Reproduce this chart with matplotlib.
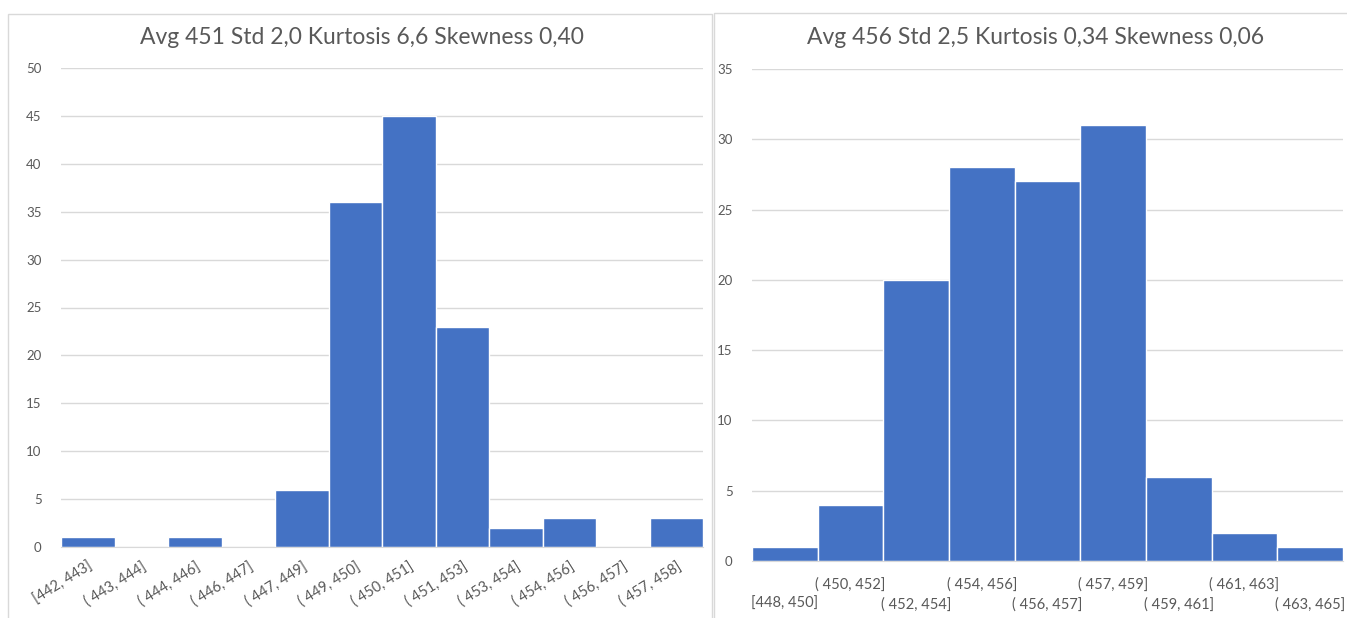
import matplotlib.pyplot as plt
from matplotlib.patches import Rectangle
import numpy as np

plt.rcParams['font.family'] = ['Lato', 'DejaVu Sans']

# Left histogram
left_bins = ['[442, 443]', '( 443, 444]', '( 444, 446]', '( 446, 447]', '( 447, 449]', '( 449, 450]',
             '( 450, 451]', '( 451, 453]', '( 453, 454]', '( 454, 456]', '( 456, 457]', '( 457, 458]']
left_counts = [1, 0, 1, 0, 6, 36, 45, 23, 2, 3, 0, 3]
left_title = 'Avg 451 Std 2,0 Kurtosis 6,6 Skewness 0,40'

# Right histogram
right_bins = ['[448, 450]', '( 450, 452]', '( 452, 454]', '( 454, 456]', '( 456, 457]',
              '( 457, 459]', '( 459, 461]', '( 461, 463]', '( 463, 465]']
right_counts = [1, 4, 20, 28, 27, 31, 6, 2, 1]
right_title = 'Avg 456 Std 2,5 Kurtosis 0,34 Skewness 0,06'

bar_color = '#4472C4'
grid_color = '#D9D9D9'
text_color = '#595959'

W, H = 1347, 618
fig = plt.figure(figsize=(W / 100, H / 100), dpi=100)

# panel borders
fig.patches.append(Rectangle((8 / W, -0.05), 704 / W, 1.05 - 14 / H, transform=fig.transFigure,
                             fill=False, edgecolor=grid_color, linewidth=1))
fig.patches.append(Rectangle((714 / W, -0.05), 700 / W, 1.05 - 13 / H, transform=fig.transFigure,
                             fill=False, edgecolor=grid_color, linewidth=1))


def style_axes(ax, ymax):
    ax.set_ylim(0, ymax)
    ax.set_yticks(np.arange(0, ymax + 1, 5))
    ax.yaxis.grid(True, color=grid_color, linewidth=1)
    ax.set_axisbelow(True)
    for s in ['top', 'right', 'left']:
        ax.spines[s].set_visible(False)
    ax.spines['bottom'].set_color(grid_color)
    ax.tick_params(axis='both', length=0, colors=text_color, labelsize=9.5)
    ax.tick_params(axis='y', pad=14)


# left chart
ax1 = fig.add_axes([61 / W, 1 - 547 / H, 642 / W, 479 / H])
x1 = np.arange(len(left_counts))
ax1.bar(x1, left_counts, width=1.0, color=bar_color, edgecolor='white', linewidth=1)
ax1.set_xlim(-0.5, len(left_counts) - 0.5)
style_axes(ax1, 50)
ax1.set_xticks(x1)
ax1.set_xticklabels(left_bins, rotation=32, ha='right', rotation_mode='anchor', fontsize=10.5)
ax1.tick_params(axis='x', pad=9)
fig.text(362 / W, 1 - 38 / H, left_title, ha='center', va='center', fontsize=16.5, color=text_color)

# right chart
ax2 = fig.add_axes([752 / W, 1 - 561 / H, 591 / W, 492 / H])
x2 = np.arange(len(right_counts))
ax2.bar(x2, right_counts, width=1.0, color=bar_color, edgecolor='white', linewidth=1)
ax2.set_xlim(-0.5, len(right_counts) - 0.5)
style_axes(ax2, 35)
ax2.set_xticks(x2)
ax2.set_xticklabels(['\n' + b if i % 2 == 0 else b for i, b in enumerate(right_bins)],
                    va='top', linespacing=1.5, fontsize=10.5)
ax2.tick_params(axis='x', pad=12)
fig.text(1036 / W, 1 - 38 / H, right_title, ha='center', va='center', fontsize=16.5, color=text_color)

fig.savefig('out.png', dpi=100)
